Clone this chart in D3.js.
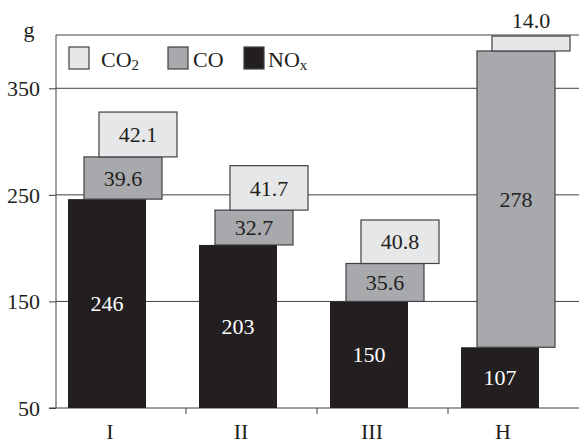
<!DOCTYPE html>
<html>
<head>
<meta charset="utf-8">
<script src="https://cdn.jsdelivr.net/npm/d3@7"></script>
<style>
  body { margin: 0; background: #fff; }
  text { font-family: "Liberation Serif", "DejaVu Serif", serif; fill: #231f20; }
</style>
</head>
<body>
<div id="chart"></div>
<script>
// data
const categories = ["I", "II", "III", "H"];
const noxValues = [246, 203, 150, 107];
const coValues = [39.6, 32.7, 35.6, 278];
const co2Values = [42.1, 41.7, 40.8, 14.0];
const yTicks = [50, 150, 250, 350];

const W = 579, H = 444;
const svg = d3.select("#chart").append("svg")
    .attr("width", W)
    .attr("height", H);

const x = d3.scaleBand()
    .domain(categories)
    .range([56, 580]);

const y = d3.scaleLinear()
    .domain([50, 400])
    .range([408, 35]);

const barW = 78;
const barOff = 12;      // black bar inside band
const coOff = 16;       // CO box shifted right of black bar
const co2Off = 31;      // CO2 box shifted more

const dark = "#231f20";
const coCol = "#a7a9ac";
const co2Col = "#e6e7e8";
const edge = "#414042";

// gridlines
svg.append("g").selectAll("line")
    .data(yTicks.slice(1))
    .join("line")
    .attr("x1", 56).attr("x2", W)
    .attr("y1", d => y(d)).attr("y2", d => y(d))
    .attr("stroke", edge).attr("stroke-width", 1);

// top frame line
svg.append("line")
    .attr("x1", 56).attr("x2", W)
    .attr("y1", y(400)).attr("y2", y(400))
    .attr("stroke", edge);

// y axis
const yAxis = svg.append("g")
    .attr("transform", "translate(56,0)")
    .call(d3.axisLeft(y).tickValues(yTicks).tickSize(7).tickPadding(9).tickFormat(d3.format("d")));
yAxis.select(".domain").attr("stroke", edge).attr("d", "M0," + y(400) + "V" + y(50));
yAxis.selectAll(".tick line").attr("stroke", edge);
yAxis.selectAll("text")
    .style("font-family", '"Liberation Serif", serif')
    .style("font-size", "22px")
    .attr("fill", dark)
    .attr("dy", "0.34em");

svg.append("text")
    .attr("x", 29).attr("y", 37)
    .attr("text-anchor", "middle")
    .style("font-size", "22px")
    .text("g");

// bottom axis line and boundary ticks
svg.append("line")
    .attr("x1", 49).attr("x2", W)
    .attr("y1", y(50)).attr("y2", y(50))
    .attr("stroke", edge);
svg.append("g").selectAll("line")
    .data(categories.slice(1))
    .join("line")
    .attr("x1", d => x(d) - 1).attr("x2", d => x(d) - 1)
    .attr("y1", y(50)).attr("y2", y(50) + 6)
    .attr("stroke", edge);

svg.append("g").selectAll("text")
    .data(categories)
    .join("text")
    .attr("x", d => x(d) + barOff + barW / 2 + 3)
    .attr("y", 439)
    .attr("text-anchor", "middle")
    .style("font-size", "22px")
    .text(d => d);

// bars
const bars = svg.append("g").selectAll("g")
    .data(categories.map((c, i) => ({ c, nox: noxValues[i], co: coValues[i], co2: co2Values[i] })))
    .join("g");

bars.append("rect")
    .attr("x", d => x(d.c) + barOff)
    .attr("y", d => y(d.nox))
    .attr("width", barW)
    .attr("height", d => y(50) - y(d.nox))
    .attr("fill", dark);

bars.append("rect")
    .attr("x", d => x(d.c) + barOff + coOff)
    .attr("y", d => y(d.nox + d.co))
    .attr("width", barW)
    .attr("height", d => y(d.nox) - y(d.nox + d.co))
    .attr("fill", coCol)
    .attr("stroke", edge).attr("stroke-width", 1.2);

bars.append("rect")
    .attr("x", d => x(d.c) + barOff + co2Off)
    .attr("y", d => y(d.nox + d.co + d.co2))
    .attr("width", barW)
    .attr("height", d => y(d.nox + d.co) - y(d.nox + d.co + d.co2))
    .attr("fill", co2Col)
    .attr("stroke", edge).attr("stroke-width", 1.2);

// value labels
bars.append("text")
    .attr("x", d => x(d.c) + barOff + barW / 2)
    .attr("y", d => (y(d.nox) + y(50)) / 2)
    .attr("dy", "0.35em")
    .attr("text-anchor", "middle")
    .style("font-size", "22px")
    .style("fill", "#fff")
    .text(d => d3.format("d")(d.nox));

bars.append("text")
    .attr("x", d => x(d.c) + barOff + coOff + barW / 2)
    .attr("y", d => (y(d.nox) + y(d.nox + d.co)) / 2)
    .attr("dy", "0.35em")
    .attr("text-anchor", "middle")
    .style("font-size", "22px")
    .text(d => d.co >= 100 ? d3.format("d")(d.co) : d3.format(".1f")(d.co));

bars.append("text")
    .attr("x", d => x(d.c) + barOff + co2Off + barW / 2)
    .attr("y", d => {
        const top = y(d.nox + d.co + d.co2), bot = y(d.nox + d.co);
        return bot - top < 28 ? top - 16 : (top + bot) / 2;
    })
    .attr("dy", "0.35em")
    .attr("text-anchor", "middle")
    .style("font-size", "22px")
    .text(d => d3.format(".1f")(d.co2));

// legend
const legend = [
    { name: "CO", sub: "2", fill: co2Col, bx: 69, tx: 101 },
    { name: "CO", sub: "", fill: coCol, bx: 168, tx: 193 },
    { name: "NO", sub: "x", fill: dark, bx: 244, tx: 268 }
];
const lg = svg.append("g").selectAll("g").data(legend).join("g");
lg.append("rect")
    .attr("x", d => d.bx).attr("y", 47)
    .attr("width", 20).attr("height", 22)
    .attr("fill", d => d.fill)
    .attr("stroke", edge).attr("stroke-width", 1.2);
const lt = lg.append("text")
    .attr("x", d => d.tx).attr("y", 67)
    .style("font-size", "22px");
lt.append("tspan").text(d => d.name);
lt.append("tspan")
    .attr("dy", 3)
    .style("font-size", "15px")
    .text(d => d.sub);
</script>
</body>
</html>
